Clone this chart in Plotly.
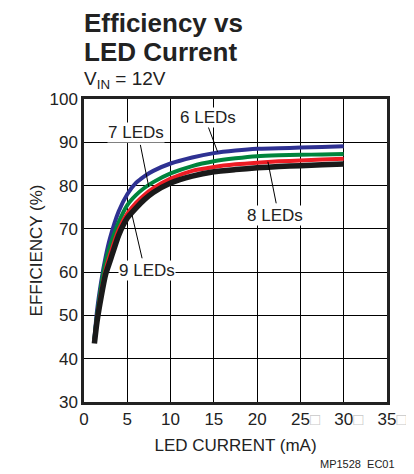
import plotly.graph_objects as go

# LED current (mA)
current = [1.2, 1.5, 2, 2.5, 3, 4, 5, 6, 7, 8, 10, 12.5, 15, 17.5, 20, 22.5, 25, 27.5, 30]

eff_6leds = [44.5, 51, 58, 63.5, 67.8, 74, 78, 80.6, 82.2, 83.4, 85.1, 86.5, 87.5, 88.1, 88.5, 88.6, 88.8, 88.9, 89.1]
eff_7leds = [44.5, 50, 57, 62.5, 66, 71.5, 75.5, 77.8, 79.5, 80.8, 82.8, 84.5, 85.6, 86.3, 86.8, 87, 87.1, 87.2, 87.3]
eff_8leds = [44, 49, 55.5, 60.5, 64, 69.8, 73.5, 76, 77.9, 79.4, 81.6, 83.4, 84.3, 84.9, 85.3, 85.6, 85.8, 86, 86.2]
eff_9leds = [43.5, 48.5, 54.5, 59.5, 62.5, 68.5, 72.5, 74.8, 76.8, 78.4, 80.6, 82.2, 83.2, 83.7, 84.1, 84.4, 84.6, 84.8, 85.0]

x_tickvals = [0, 5, 10, 15, 20, 25, 30, 35]
box = "<span style='color:#c8c8c8'>\u25a1</span>"
pad = "<span style='color:rgba(0,0,0,0)'>\u25a1</span>"
x_ticktext = ["0", "5", "10", "15", "20", pad + "25" + box, pad + "30" + box, pad + "35" + box]
y_tickvals = [30, 40, 50, 60, 70, 80, 90, 100]

FONT = "Liberation Sans, Arial, sans-serif"
INK = "#222"

fig = go.Figure()
for y, color, width in [
    (eff_6leds, "#2e3192", 4),
    (eff_7leds, "#00843d", 4),
    (eff_8leds, "#ed1c24", 4),
    (eff_9leds, "#1a1a1a", 5.5),
]:
    fig.add_trace(go.Scatter(x=current, y=y, mode="lines",
                             line=dict(color=color, width=width, shape="spline", smoothing=0.5),
                             showlegend=False))

# leader lines
for x0, y0, x1, y1 in [(14.27, 94.0, 15.43, 87.8), (6.51, 89.4, 7.48, 79.7),
                       (22.2, 75.9, 21.24, 85.5), (6.71, 63.2, 5.55, 73.2)]:
    fig.add_shape(type="line", x0=x0, y0=y0, x1=x1, y1=y1, xref="x", yref="y",
                  line=dict(color="black", width=1))

for text, x, y in [("6 LEDs", 14.36, 95.8), ("7 LEDs", 5.99, 92.2),
                   ("8 LEDs", 22.1, 73.2), ("9 LEDs", 7.27, 60.4)]:
    fig.add_annotation(x=x, y=y, text=text, showarrow=False, bgcolor="white",
                       font=dict(size=17, color=INK, family=FONT), borderpad=0)

# title lines
for text, shift in [("<b>Efficiency vs</b>", 93), ("<b>LED Current</b>", 64)]:
    fig.add_annotation(xref="paper", yref="paper", x=0, y=1, xshift=-2, yshift=shift,
                       xanchor="left", yanchor="top", align="left", showarrow=False,
                       text=text, font=dict(size=26, color=INK, family=FONT))
fig.add_annotation(xref="paper", yref="paper", x=0, y=1, xshift=-2, yshift=33,
                   xanchor="left", yanchor="top", align="left", showarrow=False,
                   text="V<sub>IN</sub> = 12V",
                   font=dict(size=19, color=INK, family=FONT))
fig.add_annotation(xref="paper", yref="paper", x=1, y=0, xshift=10, yshift=-54,
                   xanchor="right", yanchor="top", showarrow=False,
                   text="MP1528  EC01", font=dict(size=11, color=INK, family=FONT))

fig.update_xaxes(range=[0, 35], tickvals=x_tickvals, ticktext=x_ticktext, automargin=False,
                 showgrid=True, gridcolor="black", gridwidth=1, zeroline=False,
                 showline=True, linecolor=INK, linewidth=2.5, mirror=True,
                 ticks="", tickfont=dict(size=17, color=INK, family=FONT),
                 title=dict(text="LED CURRENT (mA)", standoff=11,
                            font=dict(size=17, color=INK, family=FONT)))
fig.update_yaxes(range=[30, 100], tickvals=y_tickvals, automargin=False,
                 showgrid=True, gridcolor="black", gridwidth=1, zeroline=False,
                 showline=True, linecolor=INK, linewidth=2.5, mirror=True,
                 ticks="", tickfont=dict(size=17, color=INK, family=FONT),
                 title=dict(text="EFFICIENCY (%)", standoff=3,
                            font=dict(size=17, color=INK, family=FONT)))

# the page adds an 8px body margin, so the plot box is pulled up/left to match
fig.update_layout(width=414, height=474, margin=dict(l=76, r=35, t=91, b=80),
                  paper_bgcolor="white", plot_bgcolor="white")

fig.write_html("out.html")
